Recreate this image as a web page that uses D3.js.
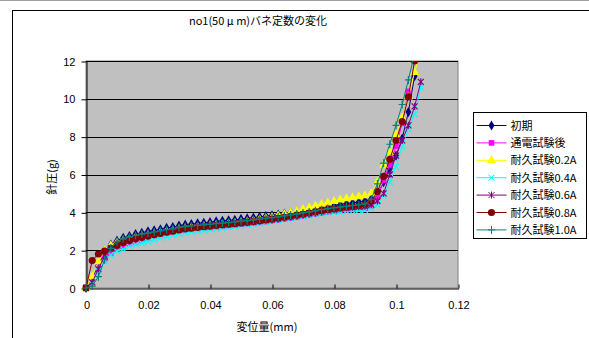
<!DOCTYPE html>
<html>
<head>
<meta charset="utf-8">
<script src="https://cdn.jsdelivr.net/npm/d3@7"></script>
<style>
  body { margin: 0; background: #fff; }
  svg text { font-family: "Noto Sans CJK JP", "Noto Sans", sans-serif; fill: #000; }
</style>
</head>
<body>
<svg></svg>
<script>
// displacement (mm), shared by all series
const disp = [0, 0.002, 0.004, 0.006, 0.008, 0.010, 0.012, 0.014, 0.016, 0.018,
  0.020, 0.022, 0.024, 0.026, 0.028, 0.030, 0.032, 0.034, 0.036, 0.038,
  0.040, 0.042, 0.044, 0.046, 0.048, 0.050, 0.052, 0.054, 0.056, 0.058,
  0.060, 0.062, 0.064, 0.066, 0.068, 0.070, 0.072, 0.074, 0.076, 0.078,
  0.080, 0.082, 0.084, 0.086, 0.088, 0.090, 0.092, 0.094, 0.096, 0.098,
  0.100, 0.102, 0.104, 0.106, 0.108]

const initial = [0, 0.5, 1.2, 1.9, 2.3, 2.5, 2.65, 2.75, 2.85, 2.92,
  3.0, 3.05, 3.1, 3.18, 3.22, 3.3, 3.35, 3.38, 3.42, 3.45,
  3.48, 3.52, 3.55, 3.58, 3.6, 3.65, 3.68, 3.72, 3.76, 3.8,
  3.84, 3.88, 3.93, 3.98, 4.03, 4.08, 4.14, 4.2, 4.26, 4.32,
  4.36, 4.42, 4.46, 4.5, 4.55, 4.6, 4.7, 4.9, 5.6, 6.3,
  7.0, 7.9, 9.3, 11.2, null]

const afterCurrent = [0.05, 0.5, 1.1, 1.55, 1.85, 2.05, 2.2, 2.35, 2.45, 2.55,
  2.65, 2.75, 2.82, 2.9, 2.95, 3.02, 3.06, 3.1, 3.14, 3.17,
  3.2, 3.23, 3.27, 3.3, 3.33, 3.37, 3.4, 3.43, 3.47, 3.51,
  3.55, 3.59, 3.64, 3.69, 3.74, 3.8, 3.85, 3.9, 3.96, 4.02,
  4.06, 4.1, 4.14, 4.18, 4.2, 4.22, 4.35, 4.8, 5.7, 6.5,
  7.5, 8.7, 10.4, null, null]

const dur02 = [0, 0.6, 1.4, 1.95, 2.25, 2.4, 2.5, 2.58, 2.66, 2.73,
  2.8, 2.86, 2.92, 2.98, 3.03, 3.1, 3.15, 3.19, 3.23, 3.27,
  3.3, 3.33, 3.37, 3.4, 3.44, 3.48, 3.52, 3.56, 3.62, 3.68,
  3.74, 3.82, 3.9, 3.98, 4.06, 4.16, 4.25, 4.34, 4.43, 4.5,
  4.58, 4.66, 4.73, 4.78, 4.83, 4.88, 5.0, 5.6, 6.5, 7.2,
  8.1, 9.0, 10.1, 11.4, 12.6]

const dur04 = [0, 0.3, 0.9, 1.4, 1.75, 1.95, 2.05, 2.2, 2.3, 2.38,
  2.45, 2.55, 2.65, 2.72, 2.8, 2.86, 2.92, 2.97, 3.01, 3.05,
  3.09, 3.13, 3.17, 3.21, 3.25, 3.3, 3.34, 3.38, 3.43, 3.48,
  3.53, 3.58, 3.63, 3.68, 3.73, 3.78, 3.83, 3.88, 3.93, 3.97,
  4.0, 4.03, 4.06, 4.08, 4.1, 4.12, 4.2, 4.4, 4.9, 5.6,
  6.4, 7.5, 8.4, 9.2, 10.6]

const dur06 = [0, 0.3, 1.0, 1.7, 2.1, 2.35, 2.5, 2.6, 2.68, 2.75,
  2.8, 2.86, 2.92, 2.98, 3.03, 3.1, 3.14, 3.18, 3.22, 3.25,
  3.28, 3.31, 3.34, 3.37, 3.4, 3.44, 3.47, 3.5, 3.55, 3.59,
  3.63, 3.68, 3.73, 3.78, 3.84, 3.9, 3.95, 4.0, 4.06, 4.12,
  4.16, 4.2, 4.24, 4.27, 4.3, 4.32, 4.4, 4.6, 5.0, 6.0,
  7.0, 7.8, 8.6, 9.6, 10.9]

const dur08 = [0, 1.45, 1.8, 1.95, 2.1, 2.25, 2.4, 2.5, 2.6, 2.67,
  2.75, 2.82, 2.88, 2.95, 3.0, 3.07, 3.12, 3.16, 3.2, 3.24,
  3.27, 3.3, 3.34, 3.37, 3.4, 3.44, 3.47, 3.51, 3.55, 3.6,
  3.64, 3.69, 3.74, 3.79, 3.85, 3.9, 3.96, 4.02, 4.08, 4.14,
  4.18, 4.23, 4.27, 4.31, 4.35, 4.4, 4.6, 5.1, 5.9, 6.8,
  7.8, 8.8, 10.1, 12.0, null]

const dur10 = [0, 0.1, 0.6, 1.5, 2.1, 2.45, 2.6, 2.7, 2.78, 2.85,
  2.9, 2.96, 3.02, 3.08, 3.13, 3.2, 3.24, 3.28, 3.31, 3.34,
  3.37, 3.4, 3.43, 3.46, 3.49, 3.53, 3.56, 3.6, 3.64, 3.68,
  3.72, 3.76, 3.81, 3.86, 3.91, 3.97, 4.02, 4.08, 4.14, 4.2,
  4.24, 4.28, 4.32, 4.36, 4.4, 4.45, 4.7, 5.5, 6.6, 7.6,
  8.6, 9.7, 11.0, 12.4, null]

const seriesNames = ["初期", "通電試験後", "耐久試験0.2A", "耐久試験0.4A", "耐久試験0.6A", "耐久試験0.8A", "耐久試験1.0A"]
const seriesValues = [initial, afterCurrent, dur02, dur04, dur06, dur08, dur10]
const seriesColors = ["#000080", "#ff00ff", "#ffff00", "#00ffff", "#800080", "#800000", "#008080"]
const seriesMarkers = ["diamond", "square", "triangle", "x", "star", "circle", "plus"]

const xTicks = [0, 0.02, 0.04, 0.06, 0.08, 0.1, 0.12]
const yTicks = [0, 2, 4, 6, 8, 10, 12]

const svg = d3.select("svg")
    .attr("width", 589)
    .attr("height", 338)

// outer chart frame
svg.append("line")
    .attr("x1", 0).attr("x2", 589).attr("y1", 0.5).attr("y2", 0.5)
    .attr("stroke", "#a0a0a0")
svg.append("rect")
    .attr("x", 12.5).attr("y", 10.5)
    .attr("width", 600).attr("height", 340)
    .attr("fill", "none")
    .attr("stroke", "#000")

const plotLeft = 86, plotRight = 458, plotTop = 61, plotBottom = 288

const scaleX = d3.scaleLinear().domain([0, 0.12]).range([plotLeft, plotRight])
const scaleY = d3.scaleLinear().domain([0, 12]).range([plotBottom, plotTop])

// plot area
svg.append("rect")
    .attr("x", plotLeft).attr("y", plotTop)
    .attr("width", plotRight - plotLeft).attr("height", plotBottom - plotTop)
    .attr("fill", "#c0c0c0")
    .attr("stroke", "#808080")

// horizontal grid lines
svg.append("g")
    .selectAll("line")
    .data(yTicks.filter(d => d > 0))
    .enter()
    .append("line")
    .attr("x1", plotLeft).attr("x2", plotRight)
    .attr("y1", d => Math.round(scaleY(d)) + 0.5)
    .attr("y2", d => Math.round(scaleY(d)) + 0.5)
    .attr("stroke", "#000")

// y axis
const yAxis = svg.append("g")
    .attr("transform", `translate(${plotLeft + 0.5}, 0.5)`)
    .call(d3.axisLeft(scaleY).tickValues(yTicks).tickSize(5).tickSizeOuter(0).tickPadding(6)
        .tickFormat(d3.format("d")))
yAxis.select(".domain").attr("stroke", "#000")
yAxis.selectAll("text").style("font-size", "11px")
    .style("font-family", "Liberation Sans, Arial, sans-serif")

// x axis, ticks pointing into the plot
const xAxis = svg.append("g")
    .attr("transform", `translate(0.5, ${plotBottom + 0.5})`)
    .call(d3.axisBottom(scaleX).tickValues(xTicks).tickSizeInner(-4).tickSizeOuter(0).tickPadding(13)
        .tickFormat(d => d === 0 ? "0" : String(+d.toFixed(2))))
xAxis.select(".domain").attr("stroke", "#000")
xAxis.selectAll("text").style("font-size", "11px")
    .style("font-family", "Liberation Sans, Arial, sans-serif")

// titles
svg.append("text")
    .attr("x", 258).attr("y", 25)
    .attr("text-anchor", "middle")
    .style("font-size", "11px")
    .text("no1(50 μ m)バネ定数の変化")

svg.append("text")
    .attr("transform", "translate(56, 177) rotate(-90)")
    .attr("text-anchor", "middle")
    .style("font-size", "11px")
    .text("針圧(g)")

svg.append("text")
    .attr("x", 267).attr("y", 331)
    .attr("text-anchor", "middle")
    .style("font-size", "11px")
    .text("変位量(mm)")

// marker shapes
const markerPath = function (type) {
    if (type === "diamond") return d3.symbol(d3.symbolDiamond, 30)()
    if (type === "square") return "M-2.8,-2.8H2.8V2.8H-2.8Z"
    if (type === "triangle") return d3.symbol(d3.symbolTriangle, 36)()
    if (type === "circle") return d3.symbol(d3.symbolCircle, 40)()
    if (type === "x") return "M-3,-3L3,3M-3,3L3,-3"
    if (type === "star") return "M-3,-3L3,3M-3,3L3,-3M0,-3.5V3.5"
    return "M-3.5,0H3.5M0,-4V4"
}
const isStroked = t => t === "x" || t === "star" || t === "plus"

svg.append("defs").append("clipPath").attr("id", "plot-clip")
    .append("rect")
    .attr("x", plotLeft - 6).attr("y", plotTop)
    .attr("width", plotRight - plotLeft + 12).attr("height", plotBottom - plotTop + 8)

const plot = svg.append("g").attr("clip-path", "url(#plot-clip)")

const line = d3.line()
    .defined(d => d.y !== null)
    .x(d => scaleX(d.x))
    .y(d => scaleY(d.y))

seriesValues.forEach((values, i) => {
    const pts = disp.map((x, j) => ({ x: x, y: values[j] }))
    const g = plot.append("g").attr("class", "series")

    g.append("path")
        .datum(pts)
        .attr("fill", "none")
        .attr("stroke", seriesColors[i])
        .attr("stroke-width", 1)
        .attr("d", line)

    g.selectAll("path.marker")
        .data(pts.filter(d => d.y !== null))
        .enter()
        .append("path")
        .attr("class", "marker")
        .attr("transform", d => `translate(${scaleX(d.x)}, ${scaleY(d.y)})`)
        .attr("d", markerPath(seriesMarkers[i]))
        .attr("fill", isStroked(seriesMarkers[i]) ? "none" : seriesColors[i])
        .attr("stroke", isStroked(seriesMarkers[i]) ? seriesColors[i] : "none")
        .attr("stroke-width", 1.2)
})

// legend
const legend = svg.append("g").attr("transform", "translate(473.5, 112.5)")
legend.append("rect")
    .attr("width", 113).attr("height", 126)
    .attr("fill", "#fff")
    .attr("stroke", "#000")

const items = legend.selectAll("g.item")
    .data(seriesNames)
    .enter()
    .append("g")
    .attr("class", "item")
    .attr("transform", (d, i) => `translate(0, ${13 + i * 17.4})`)

items.append("line")
    .attr("x1", 3).attr("x2", 33)
    .attr("stroke", (d, i) => seriesColors[i])

items.append("path")
    .attr("transform", "translate(18, 0)")
    .attr("d", (d, i) => markerPath(seriesMarkers[i]))
    .attr("fill", (d, i) => isStroked(seriesMarkers[i]) ? "none" : seriesColors[i])
    .attr("stroke", (d, i) => isStroked(seriesMarkers[i]) ? seriesColors[i] : "none")

items.append("text")
    .attr("x", 37).attr("y", 4)
    .style("font-size", "11px")
    .text(d => d)
</script>
</body>
</html>
